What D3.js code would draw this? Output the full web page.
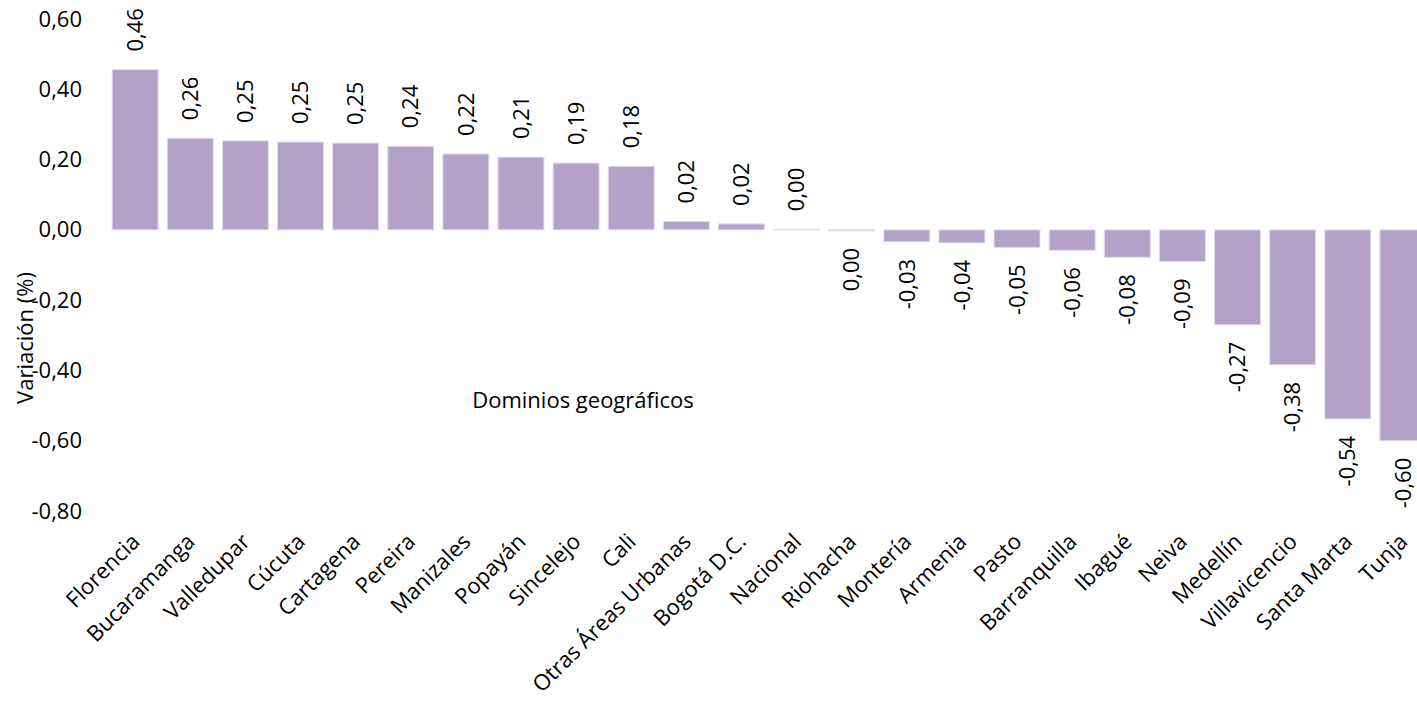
<!DOCTYPE html>
<html>
<head>
<meta charset="utf-8">
<script src="https://cdn.jsdelivr.net/npm/d3@7"></script>
<style>
  body { margin: 0; background: #fff; }
  svg text { font-family: "Open Sans", "Noto Sans", sans-serif; fill: #000; }
</style>
</head>
<body>
<svg id="chart" width="1417" height="701"></svg>
<script>
// categories and values
var dominios = ["Florencia", "Bucaramanga", "Valledupar", "Cúcuta", "Cartagena", "Pereira",
    "Manizales", "Popayán", "Sincelejo", "Cali", "Otras Áreas Urbanas", "Bogotá D.C.",
    "Nacional", "Riohacha", "Montería", "Armenia", "Pasto", "Barranquilla", "Ibagué",
    "Neiva", "Medellín", "Villavicencio", "Santa Marta", "Tunja"];
var variacion = [0.456, 0.261, 0.253, 0.25, 0.247, 0.238, 0.216, 0.207, 0.19, 0.181,
    0.024, 0.017, 0.002, -0.003, -0.034, -0.037, -0.05, -0.058, -0.078, -0.09,
    -0.27, -0.384, -0.538, -0.6];
var yTicks = [0.6, 0.4, 0.2, 0, -0.2, -0.4, -0.6, -0.8];

var es = d3.formatLocale({decimal: ",", thousands: ".", grouping: [3], currency: ["$", ""], minus: "-"});
var fmt = es.format(".2f");

var svg = d3.select("#chart");

var x = d3.scaleBand()
    .domain(dominios)
    .range([103, 1435])
    .padding(0.166);

var y = d3.scaleLinear()
    .domain([-0.8, 0.6])
    .range([511, 19]);

var data = dominios.map(function(d, i) { return {name: d, value: variacion[i]}; });

// y axis, no line, no ticks
var yAxis = d3.axisLeft(y).tickValues(yTicks).tickFormat(fmt).tickSize(0).tickPadding(0);
var gy = svg.append("g")
    .attr("transform", "translate(82,0)")
    .call(yAxis);
gy.select(".domain").remove();
gy.selectAll("text").style("font-size", "22px").attr("fill", "#000");

// bars
svg.selectAll(".bar")
    .data(data)
    .enter().append("rect")
    .attr("class", "bar")
    .attr("x", function(d) { return x(d.name); })
    .attr("width", x.bandwidth())
    .attr("y", function(d) { return y(Math.max(0, d.value)); })
    .attr("height", function(d) { return Math.abs(y(d.value) - y(0)); })
    .attr("fill", "#b3a2c8")
    .attr("stroke", "#e2dbec")
    .attr("stroke-width", 1);

// value labels
svg.selectAll(".lbl")
    .data(data)
    .enter().append("text")
    .attr("class", "lbl")
    .attr("transform", function(d) {
        var cx = x(d.name) + x.bandwidth() / 2;
        var yy = d.value >= 0 ? y(d.value) - 18 : y(d.value) + 17;
        return "translate(" + cx + "," + yy + ") rotate(-90)";
    })
    .attr("dy", "0.35em")
    .style("text-anchor", function(d) { return d.value >= 0 ? "start" : "end"; })
    .style("font-size", "22px")
    .text(function(d) { return fmt(d.value); });

// category labels
svg.selectAll(".cat")
    .data(data)
    .enter().append("text")
    .attr("class", "cat")
    .attr("transform", function(d) {
        return "translate(" + (x(d.name) + x.bandwidth() / 2 + 6) + ",543) rotate(-45)";
    })
    .style("text-anchor", "end")
    .style("font-size", "22px")
    .text(function(d) { return d.name; });

// axis titles
svg.append("text")
    .attr("transform", "translate(25,338) rotate(-90)")
    .attr("dy", "0.35em")
    .style("text-anchor", "middle")
    .style("font-size", "22px")
    .text("Variación (%)");

svg.append("text")
    .attr("x", 583)
    .attr("y", 400)
    .attr("dy", "0.35em")
    .style("text-anchor", "middle")
    .style("font-size", "22px")
    .text("Dominios geográficos");
</script>
</body>
</html>
